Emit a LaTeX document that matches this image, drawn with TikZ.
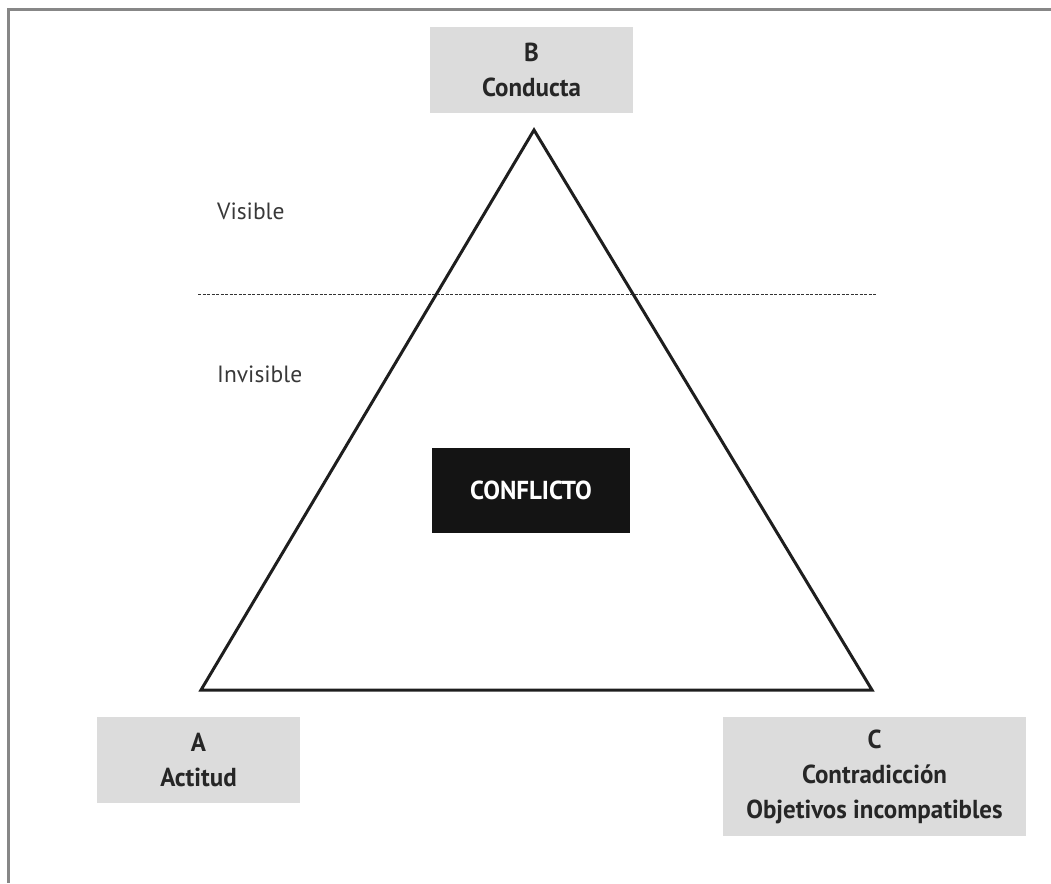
\documentclass[tikz,border=0pt]{standalone}
\usepackage{fontspec}
\setmainfont{PT Sans}
\newfontfamily\condbold[FakeStretch=0.96]{PT Sans Bold}
\definecolor{boxgray}{RGB}{220,220,220}
\definecolor{framegray}{RGB}{135,135,135}
\definecolor{linedark}{RGB}{30,30,30}
\tikzset{
  labelbox/.style={fill=boxgray, draw=none, inner sep=0pt, align=center,
    font=\condbold\fontsize{26}{35}\selectfont, text=black!85},
  sidetext/.style={font=\fontsize{23.5}{28}\selectfont, text=black!78, anchor=west, inner sep=0pt},
  conflictbox/.style={fill=black!92, draw=none, inner sep=0pt, text=white,
    font=\condbold\fontsize{26}{30}\selectfont},
  triline/.style={draw=linedark, line width=3pt, line join=miter},
  sepline/.style={draw=black!80, line width=1.1pt, dash pattern=on 3pt off 1.5pt},
  frameline/.style={draw=framegray, line width=3pt}
}
\begin{document}
\begin{tikzpicture}[x=1pt,y=-1pt]
\useasboundingbox (0,0) rectangle (1051,883);
% frame (top and left)
\coordinate (fTL) at (8.5,9.5);
\coordinate (fTR) at (1051,9.5);
\coordinate (fBL) at (8.5,883);
\draw[frameline] (fTR) -- (fTL) -- (fBL);
% triangle
\coordinate (apex) at (534,130);
\coordinate (bl) at (201,690);
\coordinate (br) at (872,690);
\draw[triline] (apex) -- (bl) -- (br) -- cycle;
% separator
\coordinate (sepL) at (198,294.5);
\coordinate (sepR) at (876,294.5);
\draw[sepline] (sepL) -- (sepR);
% labels
\node[sidetext] (vis) at (217,211) {Visible};
\node[sidetext] (invis) at (217,374) {Invisible};
% boxes
\node[labelbox, minimum width=203pt, minimum height=86pt] (B) at (531.5,70) {B\\Conducta};
\node[labelbox, minimum width=203pt, minimum height=86pt] (A) at (198.5,760) {A\\Actitud};
\node[labelbox, minimum width=303pt, minimum height=119pt] (C) at (874.5,776.5) {C\\Contradicción\\Objetivos incompatibles};
\node[conflictbox, minimum width=198pt, minimum height=85pt] (conf) at (531,490.5) {CONFLICTO};
\end{tikzpicture}
\end{document}
